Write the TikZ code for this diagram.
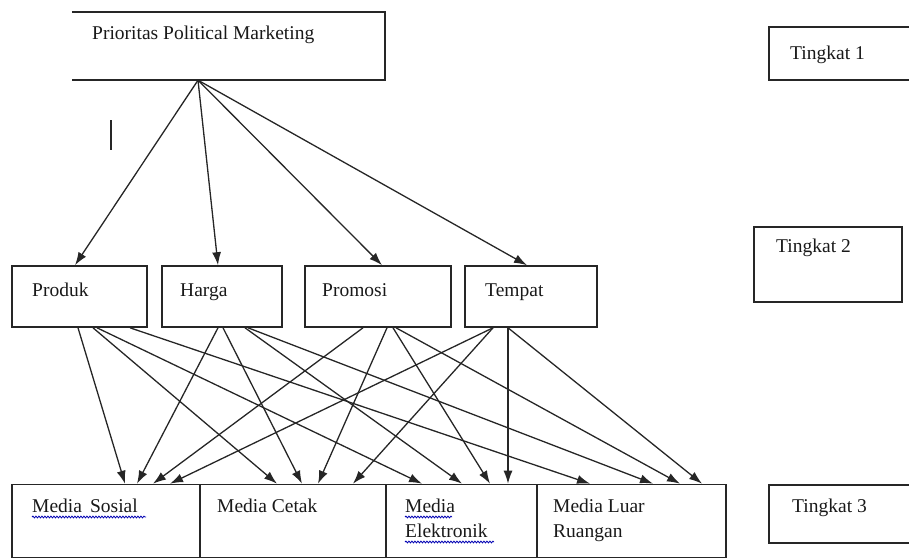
\documentclass[tikz,border=0pt]{standalone}
\usepackage{fontspec}
\setmainfont{Liberation Serif}
\usetikzlibrary{arrows.meta,decorations.pathmorphing}
\begin{document}
\begin{tikzpicture}[x=1pt,y=-1pt,
  box/.style={draw=black!85,line width=1.6pt,inner sep=0pt,minimum width=#1},
  lvltwo/.style={minimum height=61pt},
  lvlthree/.style={minimum height=73pt},
  txt/.style={anchor=base west,inner sep=0pt,font=\fontsize{19.5}{25}\selectfont,text=black!90},
  arr/.style={draw=black!85,line width=1.3pt,-{Latex[length=13pt,width=9pt]}},
  wavy/.style={draw=blue!70!black,line width=0.8pt,decorate,decoration={snake,amplitude=0.9pt,segment length=3pt}}]
\useasboundingbox (0,0) rectangle (909,559);
% level 1
\node[inner sep=0pt,minimum width=313pt,minimum height=68pt] (top) at (228.5,46) {};
\draw[draw=black!85,line width=1.6pt] (top.north west) -- (top.north east) -- (top.south east) -- (top.south west);
\node[txt] (toptxt) at (92,40) {Prioritas Political Marketing};
\draw[draw=black!85,line width=1.4pt] (111,120) -- (111,150);
% level 2
\node[box=135pt,lvltwo] (produk) at (79.5,296.5) {};
\node[box=120pt,lvltwo] (harga) at (222,296.5) {};
\node[box=146pt,lvltwo] (promosi) at (378,296.5) {};
\node[box=132pt,lvltwo] (tempat) at (531,296.5) {};
\node[txt] (produktxt) at (32,296) {Produk};
\node[txt] (hargatxt) at (180,296) {Harga};
\node[txt] (promositxt) at (322,296) {Promosi};
\node[txt] (tempattxt) at (485,296) {Tempat};
% level 3
\node[box=188pt,lvlthree] (sosial) at (106,521) {};
\node[box=186pt,lvlthree] (cetak) at (293,521) {};
\node[box=151pt,lvlthree] (elek) at (461.5,521) {};
\node[box=189pt,lvlthree] (luar) at (631.5,521) {};
\node[txt] (sosialtxt) at (32,512) {Media\, Sosial};
\node[txt] (cetaktxt) at (217,512) {Media Cetak};
\node[txt,align=left] (elektxt) at (405,537) {Media\\Elektronik};
\node[txt,align=left] (luartxt) at (553,537) {Media Luar\\Ruangan};
\draw[wavy] (32,517) -- (146,517);
\draw[wavy] (405,517) -- (452,517);
\draw[wavy] (405,542) -- (494,542);
% tingkat
\node[box=145pt,minimum height=53pt] (t1) at (841.5,53.5) {};
\node[box=148pt,minimum height=75pt] (t2) at (828,264.5) {};
\node[box=145pt,minimum height=58pt] (t3) at (841.5,514) {};
\node[txt] (t1txt) at (790,60) {Tingkat 1};
\node[txt] (t2txt) at (776,252) {Tingkat 2};
\node[txt] (t3txt) at (792,512) {Tingkat 3};
% arrows level 1 -> level 2
\draw[arr] (198,0 |- top.south) -- (75,0 |- produk.north);
\draw[arr] (198,0 |- top.south) -- (218,0 |- harga.north);
\draw[arr] (198,0 |- top.south) -- (382,0 |- promosi.north);
\draw[arr] (198,0 |- top.south) -- (527,0 |- tempat.north);
% arrows level 2 -> level 3
\newcommand\lk[4]{\draw[arr] (#2,0 |- #1.south) -- (#4,0 |- #3.north);}
\lk{produk}{78}{sosial}{125}
\lk{produk}{93}{cetak}{277}
\lk{produk}{97}{elek}{422}
\lk{produk}{130}{luar}{590}
\lk{harga}{218}{sosial}{137}
\lk{harga}{223}{cetak}{302}
\lk{harga}{245}{elek}{462}
\lk{harga}{248}{luar}{653}
\lk{promosi}{363}{sosial}{153}
\lk{promosi}{387}{cetak}{318}
\lk{promosi}{393}{elek}{490}
\lk{promosi}{396}{luar}{680}
\lk{tempat}{493}{sosial}{170}
\lk{tempat}{493}{cetak}{353}
\lk{tempat}{508}{elek}{508}
\lk{tempat}{508}{luar}{702}
\end{tikzpicture}
\end{document}
